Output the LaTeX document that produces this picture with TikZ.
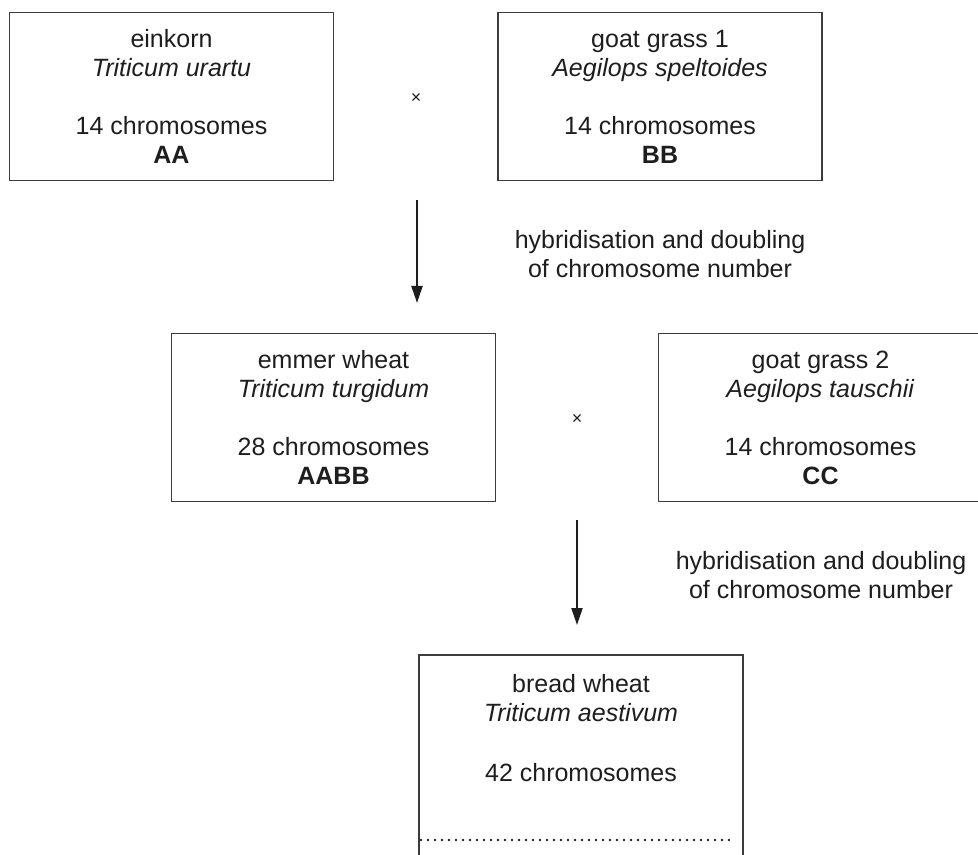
\documentclass[tikz,border=0pt]{standalone}
\usepackage{fontspec}
\setmainfont{Liberation Sans}
\usetikzlibrary{arrows.meta,positioning}
\definecolor{boxgray}{RGB}{60,60,60}
\definecolor{inkgray}{RGB}{30,30,30}

\tikzset{
    species/.style={draw=boxgray, line width=0.8pt, minimum width=162pt, minimum height=84pt,
        align=center, inner sep=0pt, text=inkgray, font=\fontsize{12.5}{14.5}\selectfont},
    steptext/.style={align=center, inner sep=0pt, text=inkgray, font=\fontsize{12.5}{14.5}\selectfont},
    crossmark/.style={inner sep=0pt, text=inkgray, font=\fontsize{9}{10}\selectfont},
    descent/.style={-{Triangle[length=8.5pt,width=5.5pt]}, line width=1.1pt, draw=inkgray},
    dotrow/.style={line width=1.4pt, draw=inkgray, line cap=round, dash pattern=on 0pt off 3.5pt}
}

\begin{document}
\begin{tikzpicture}[x=0.5pt, y=-0.5pt]
    \clip (0, 0) rectangle (978, 855);
    \fill[white] (0, 0) rectangle (978, 855);
    \begin{scope}
        % First cross
        \node[species] (einkorn) at (171.5, 96.5)
            {einkorn\\ \textit{Triticum urartu}\\[14.5pt] 14 chromosomes\\ \textbf{AA}};
        \node[species] (goat1) at (660, 96.5)
            {goat grass 1\\ \textit{Aegilops speltoides}\\[14.5pt] 14 chromosomes\\ \textbf{BB}};
        \node[crossmark] (cross1) at (416, 98) {×};
        % First step
        \coordinate (step1top) at (417, 200);
        \coordinate (step1end) at (417, 303);
        \draw[descent] (step1top) -- (step1end);
        \node[steptext] (step1text) at (660, 254) {hybridisation and doubling\\ of chromosome number};
    \end{scope}
    \begin{scope}
        % Second cross
        \node[species] (emmer) at (333.5, 417.5)
            {emmer wheat\\ \textit{Triticum turgidum}\\[14.5pt] 28 chromosomes\\ \textbf{AABB}};
        \node[species] (goat2) at (820.5, 417.5)
            {goat grass 2\\ \textit{Aegilops tauschii}\\[14.5pt] 14 chromosomes\\ \textbf{CC}};
        \node[crossmark] (cross2) at (577, 419) {×};
        % Second step
        \coordinate (step2top) at (577, 520);
        \coordinate (step2end) at (577, 625);
        \draw[descent] (step2top) -- (step2end);
        \node[steptext] (step2text) at (821, 575) {hybridisation and doubling\\ of chromosome number};
    \end{scope}
    \begin{scope}
        % Result
        \node[species, minimum height=110pt] (bread) at (581, 765) {};
        \node[steptext, anchor=north] (breadtext) at (581, 674)
            {bread wheat\\ \textit{Triticum aestivum}\\[15.5pt] 42 chromosomes};
        \coordinate (dotstart) at (421, 840);
        \coordinate (dotend) at (733, 840);
        \draw[dotrow] (dotstart) -- (dotend);
    \end{scope}
\end{tikzpicture}
\end{document}
